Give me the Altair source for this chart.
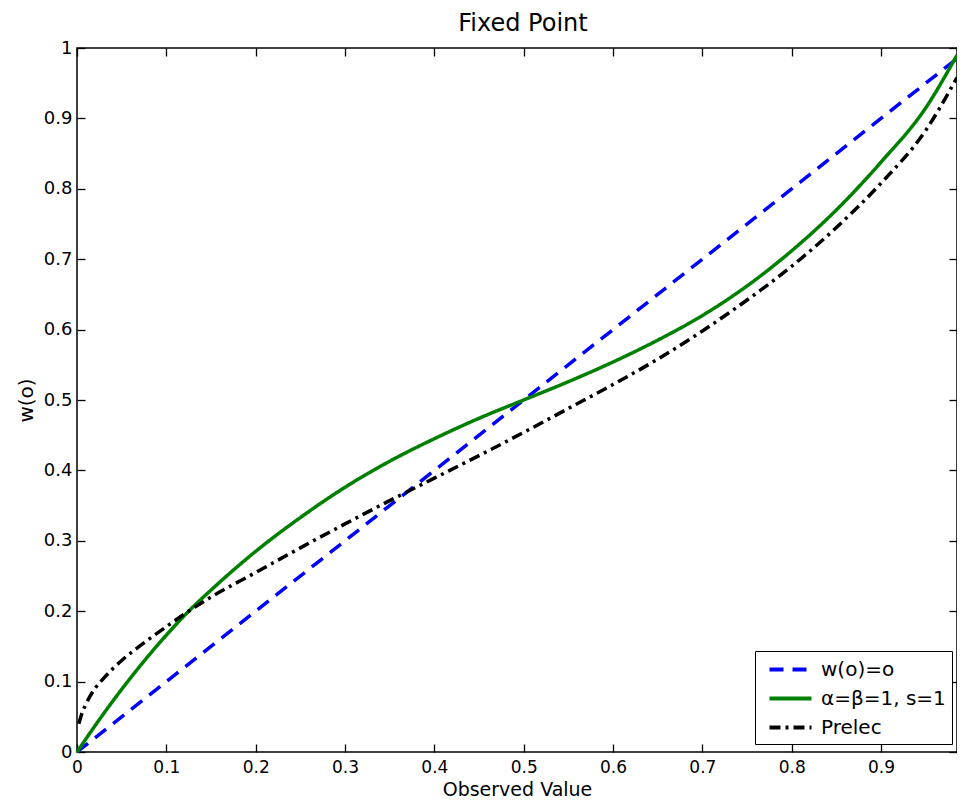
import altair as alt
import pandas as pd

# ---- data ----
series_names = ["w(o)=o", "α=β=1, s=1", "Prelec"]
series_colors = ["#0000ff", "#008000", "#000000"]
series_dashes = [[14, 9], [1, 0], [11, 5, 3, 5]]

x_identity = [0.0, 0.985]
y_identity = [0.0, 0.985]

x_model = [0.0, 0.025, 0.05, 0.075, 0.1, 0.125, 0.15, 0.2, 0.25, 0.3, 0.35, 0.4,
           0.45, 0.5, 0.55, 0.6, 0.65, 0.7, 0.75, 0.8, 0.85, 0.9, 0.95, 0.985]
y_model = [0.0, 0.046, 0.089, 0.129, 0.166, 0.2, 0.23, 0.285, 0.333, 0.376, 0.413, 0.445,
           0.474, 0.5, 0.526, 0.554, 0.585, 0.62, 0.662, 0.712, 0.77, 0.838, 0.915, 0.99]

x_prelec = [0.002, 0.005, 0.01, 0.02, 0.03, 0.05, 0.075, 0.1, 0.125, 0.15, 0.2, 0.25,
            0.3, 0.35, 0.4, 0.45, 0.5, 0.55, 0.6, 0.65, 0.7, 0.75, 0.8, 0.85, 0.9,
            0.95, 0.985]
y_prelec = [0.04, 0.053, 0.068, 0.09, 0.105, 0.13, 0.155, 0.178, 0.2, 0.22, 0.255, 0.29,
            0.324, 0.357, 0.389, 0.421, 0.454, 0.488, 0.522, 0.558, 0.598, 0.642, 0.69,
            0.745, 0.808, 0.883, 0.958]

x_ticks = [0, 0.1, 0.2, 0.3, 0.4, 0.5, 0.6, 0.7, 0.8, 0.9]
y_ticks = [0, 0.1, 0.2, 0.3, 0.4, 0.5, 0.6, 0.7, 0.8, 0.9, 1.0]

rows = []
for name, xs, ys in zip(series_names,
                        [x_identity, x_model, x_prelec],
                        [y_identity, y_model, y_prelec]):
    for i, (a, b) in enumerate(zip(xs, ys)):
        rows.append({"series": name, "x": a, "y": b, "i": i})
df = pd.DataFrame(rows)

FONT = "DejaVu Sans"
xscale = alt.Scale(domain=[0, 0.985], nice=False, zero=False)
yscale = alt.Scale(domain=[0, 1], nice=False, zero=False)

common_axis = dict(grid=False, domain=False, tickSize=8, offset=-8, tickColor="black",
                   tickWidth=1.3, labelColor="black", labelFont=FONT,
                   labelFlush=False,
                   titleFont=FONT, titleFontWeight="normal", titleColor="black")

legend = alt.Legend(orient="none", legendX=678, legendY=603, title=None,
                    symbolType="M-2,0H2", symbolSize=441, symbolStrokeWidth=4,
                    symbolOffset=17,
                    labelFont=FONT, labelFontSize=20, labelColor="black",
                    strokeColor="black", fillColor="white", padding=6,
                    rowPadding=6, labelOffset=18)

lines = alt.Chart(df).mark_line(strokeWidth=3.5, interpolate="monotone").encode(
    x=alt.X("x:Q", scale=xscale,
            axis=alt.Axis(orient="bottom", values=x_ticks, format=".1~f",
                          labelFontSize=17, labelPadding=7,
                          title="Observed Value", titleFontSize=19,
                          titleBaseline="alphabetic", titleY=51.5, **common_axis)),
    y=alt.Y("y:Q", scale=yscale,
            axis=alt.Axis(orient="left", values=y_ticks, format=".1~f",
                          labelFontSize=18, labelPadding=5,
                          title="w(o)", titleFontSize=20,
                          titlePadding=7, **common_axis)),
    color=alt.Color("series:N", scale=alt.Scale(domain=series_names, range=series_colors),
                    legend=legend),
    strokeDash=alt.StrokeDash("series:N",
                              scale=alt.Scale(domain=series_names, range=series_dashes),
                              legend=legend),
    order="i:Q",
)

frame_axes = alt.Chart(df).mark_point(opacity=0).encode(
    x=alt.X("x:Q", scale=xscale,
            axis=alt.Axis(orient="top", values=x_ticks, labels=False, title=None,
                          **common_axis)),
    y=alt.Y("y:Q", scale=yscale,
            axis=alt.Axis(orient="right", values=y_ticks, labels=False, title=None,
                          **common_axis)),
)

chart = alt.layer(lines, frame_axes).resolve_axis(
    x="independent", y="independent"
).properties(
    width=880, height=704,
    title=alt.TitleParams("Fixed Point", font=FONT, fontSize=24, fontWeight="normal",
                          color="black", anchor="middle", offset=3, dx=6),
    autosize=alt.AutoSizeParams(type="none"),
    padding={"left": 69, "top": 40, "right": 0, "bottom": 48},
).configure_view(stroke="black", strokeWidth=1.5)

chart.save("out.html", embed_options={"renderer": "svg", "actions": False})
